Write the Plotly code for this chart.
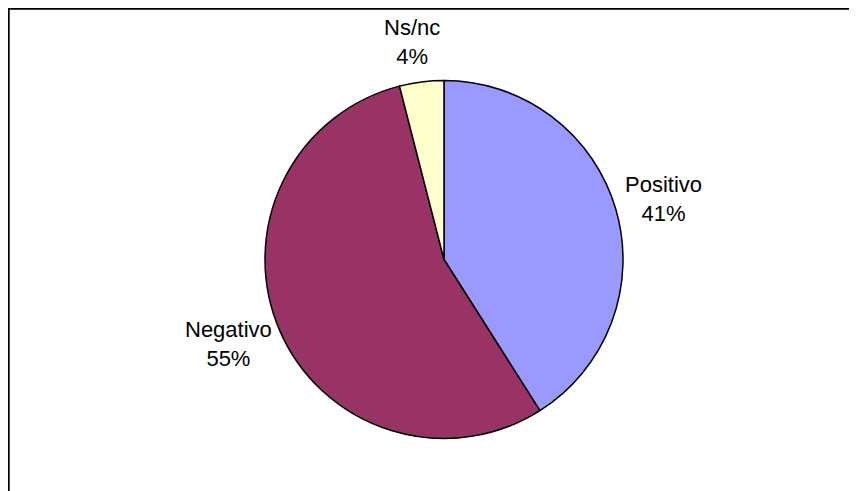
import plotly.graph_objects as go

labels = ["Positivo", "Negativo", "Ns/nc"]
values = [41, 55, 4]
colors = ["#9999FF", "#993366", "#FFFFCC"]

W, H = 857, 491
# page body adds an 8px offset; positions below are in figure pixels
cx, cy, R = 436, 251.5, 179
label_pos = [(655, 190.5), (220, 336), (403.5, 33.5)]

fig = go.Figure(go.Pie(
    labels=labels,
    values=values,
    sort=False,
    direction="clockwise",
    rotation=0,
    textinfo="none",
    marker=dict(colors=colors, line=dict(color="black", width=1.5)),
    domain=dict(x=[(cx - R) / W, (cx + R) / W], y=[1 - (cy + R) / H, 1 - (cy - R) / H]),
    showlegend=False,
))

total = sum(values)
annotations = []
for lab, v, (px, py) in zip(labels, values, label_pos):
    annotations.append(dict(
        x=px / W, y=1 - py / H, xref="paper", yref="paper",
        text=f"{lab}<br>{round(v / total * 100)}%",
        showarrow=False, xanchor="center", yanchor="middle",
        font=dict(family="Liberation Sans, Arial", size=22, color="black"),
    ))

fig.update_layout(
    width=W, height=H,
    margin=dict(l=0, r=0, t=0, b=0),
    paper_bgcolor="white", plot_bgcolor="white",
    annotations=annotations,
    shapes=[dict(type="rect", xref="paper", yref="paper",
                 x0=0.6 / W, x1=1.05, y0=-0.05, y1=1 - 0.6 / H,
                 line=dict(color="black", width=2.2))],
)

fig.write_html("out.html")
